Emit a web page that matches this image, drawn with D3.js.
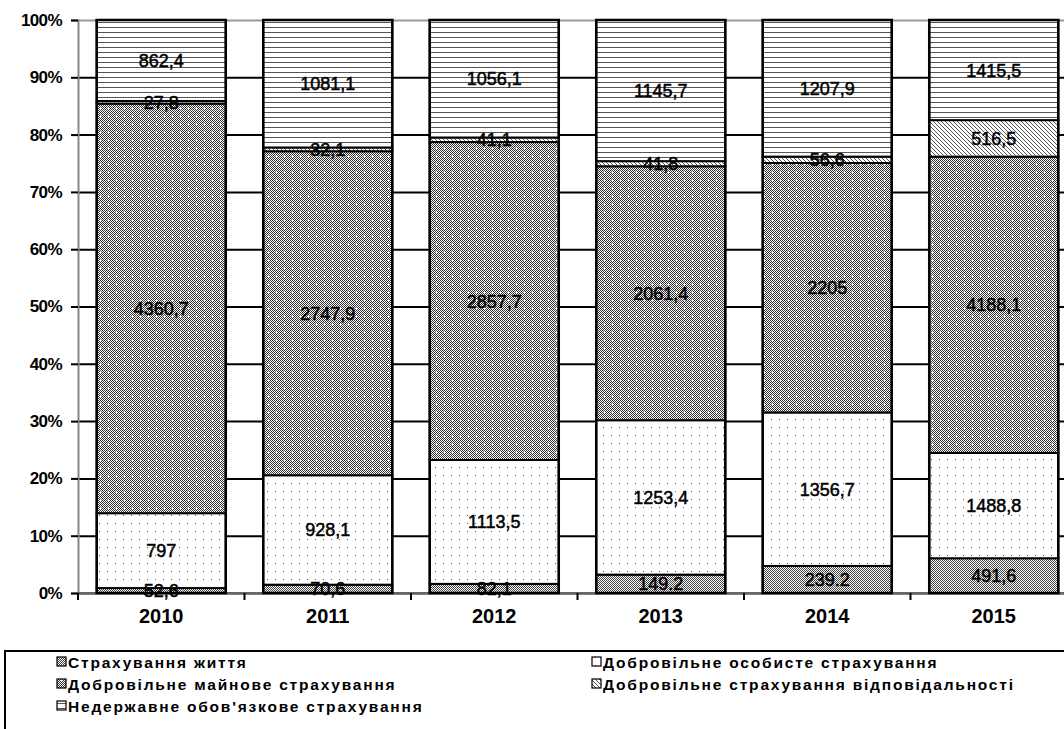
<!DOCTYPE html>
<html>
<head>
<meta charset="utf-8">
<script src="https://cdn.jsdelivr.net/npm/d3@7"></script>
<style>
  html, body { margin: 0; padding: 0; background: #fff; }
  svg { display: block; }
  text { font-family: "Liberation Sans", Arial, sans-serif; }
</style>
</head>
<body>
<svg id="chart" width="1064" height="729"></svg>
<script>
// ---------- data ----------
const years = ["2010", "2011", "2012", "2013", "2014", "2015"];
const seriesNames = [
  "Страхування  життя",
  "Добровільне  особисте  страхування",
  "Добровільне  майнове  страхування",
  "Добровільне  страхування  відповідальності",
  "Недержавне  обов'язкове  страхування"
];
const life      = [52.6, 70.6, 82.1, 149.2, 239.2, 491.6];
const personal  = [797, 928.1, 1113.5, 1253.4, 1356.7, 1488.8];
const property  = [4360.7, 2747.9, 2857.7, 2061.4, 2205, 4188.1];
const liability = [27.8, 32.1, 41.1, 41.8, 56.6, 516.5];
const mandatory = [862.4, 1081.1, 1056.1, 1145.7, 1207.9, 1415.5];
const yTicks = [0, 0.1, 0.2, 0.3, 0.4, 0.5, 0.6, 0.7, 0.8, 0.9, 1.0];
// life labels for 2013 & 2014 are printed with a decimal point in the source
const pointDecimalYears = ["2013", "2014"];

const seriesValues = [life, personal, property, liability, mandatory];
const keys = ["life", "personal", "property", "liability", "mandatory"];

// ---------- layout ----------
const svg = d3.select("#chart");
const margin = { left: 78, top: 20, bottom: 593 };
const plotRight = 1077;

const table = years.map((yr, i) => {
  const row = { year: yr };
  keys.forEach((k, s) => row[k] = seriesValues[s][i]);
  return row;
});

const stack = d3.stack().keys(keys).offset(d3.stackOffsetExpand);
const stacked = stack(table);

const x = d3.scaleBand().domain(years).range([margin.left, plotRight])
  .paddingInner(0.225).paddingOuter(0.1125);
const y = d3.scaleLinear().domain([0, 1]).range([margin.bottom, margin.top]);

// ---------- patterns ----------
const defs = svg.append("defs");
const chk = defs.append("pattern").attr("id", "checker").attr("patternUnits", "userSpaceOnUse")
  .attr("width", 2).attr("height", 2);
chk.append("rect").attr("width", 2).attr("height", 2).attr("fill", "#fff");
chk.append("rect").attr("width", 1).attr("height", 1).attr("fill", "#333");
chk.append("rect").attr("x", 1).attr("y", 1).attr("width", 1).attr("height", 1).attr("fill", "#333");

const pLife = defs.append("pattern").attr("id", "p-life").attr("patternUnits", "userSpaceOnUse")
  .attr("width", 2).attr("height", 2);
pLife.append("rect").attr("width", 2).attr("height", 2).attr("fill", "#fff");
pLife.append("rect").attr("width", 1).attr("height", 1).attr("fill", "#444");
pLife.append("rect").attr("x", 1).attr("y", 1).attr("width", 1).attr("height", 1).attr("fill", "#444");

const pProp = defs.append("pattern").attr("id", "p-property").attr("patternUnits", "userSpaceOnUse")
  .attr("width", 8).attr("height", 8);
pProp.append("rect").attr("width", 8).attr("height", 8).attr("fill", "url(#checker)");
pProp.append("rect").attr("x", 3).attr("y", 4).attr("width", 3).attr("height", 1).attr("fill", "#fff");
pProp.append("rect").attr("x", 4).attr("y", 3).attr("width", 1).attr("height", 3).attr("fill", "#fff");

const pPers = defs.append("pattern").attr("id", "p-personal").attr("patternUnits", "userSpaceOnUse")
  .attr("width", 8).attr("height", 8);
pPers.append("rect").attr("width", 8).attr("height", 8).attr("fill", "#fff");
pPers.append("rect").attr("x", 3).attr("y", 3).attr("width", 1).attr("height", 1).attr("fill", "#555");

const pLiab = defs.append("pattern").attr("id", "p-liability").attr("patternUnits", "userSpaceOnUse")
  .attr("width", 4).attr("height", 4);
pLiab.append("rect").attr("width", 4).attr("height", 4).attr("fill", "#fff");
pLiab.append("path").attr("d", "M-1,-1 L5,5 M-1,3 L1,5 M3,-1 L5,1")
  .attr("stroke", "#555").attr("stroke-width", 1);

const pMand = defs.append("pattern").attr("id", "p-mandatory").attr("patternUnits", "userSpaceOnUse")
  .attr("width", 8).attr("height", 5);
pMand.append("rect").attr("width", 8).attr("height", 5).attr("fill", "#fff");
pMand.append("rect").attr("y", 2).attr("width", 8).attr("height", 1).attr("fill", "#555");

const fills = {
  life: "url(#p-life)", personal: "url(#p-personal)", property: "url(#p-property)",
  liability: "url(#p-liability)", mandatory: "url(#p-mandatory)"
};

// ---------- grid ----------
const grid = svg.append("g").attr("transform", `translate(${margin.left},0)`)
  .call(d3.axisLeft(y).tickValues(yTicks).tickSize(-(1064 - margin.left)).tickFormat(""));
grid.select(".domain").remove();
grid.selectAll(".tick line").attr("stroke", d => d === 1 ? "#999" : "#000").attr("stroke-width", 2);

// y axis
const yAxis = svg.append("g").attr("transform", `translate(${margin.left},0)`)
  .call(d3.axisLeft(y).tickValues(yTicks).tickSize(7).tickPadding(9)
    .tickFormat(d => Math.round(d * 100) + "%"));
yAxis.select(".domain").attr("stroke", "#888").attr("stroke-width", 2);
yAxis.selectAll(".tick line").attr("stroke", "#000").attr("stroke-width", 2);
yAxis.selectAll(".tick text").attr("font-size", 17).attr("font-weight", "bold")
  .attr("letter-spacing", -0.6).attr("fill", "#000")
  .style("font-family", "'Liberation Sans', Arial, sans-serif");

// x axis baseline
svg.append("line").attr("x1", margin.left).attr("x2", 1064)
  .attr("y1", y(0)).attr("y2", y(0)).attr("stroke", "#666").attr("stroke-width", 2);

// category boundary ticks
const bounds = d3.range(years.length + 1).map(i => x.range()[0] + i * x.step());
svg.append("g").selectAll("line").data(bounds).join("line")
  .attr("x1", d => d).attr("x2", d => d)
  .attr("y1", y(0)).attr("y2", y(0) + 7)
  .attr("stroke", "#000").attr("stroke-width", 2);

// x labels
const xAxis = svg.append("g").attr("transform", `translate(0,${y(0)})`)
  .call(d3.axisBottom(x).tickSize(0).tickPadding(16));
xAxis.select(".domain").remove();
xAxis.selectAll(".tick text").attr("font-size", 20).attr("font-weight", "bold").attr("fill", "#000")
  .style("font-family", "'Liberation Sans', Arial, sans-serif");

// ---------- bars ----------
const layers = svg.append("g").selectAll("g").data(stacked).join("g")
  .attr("fill", d => fills[d.key]);
layers.selectAll("rect").data(d => d).join("rect")
  .attr("x", d => x(d.data.year))
  .attr("width", x.bandwidth())
  .attr("y", d => y(d[1]))
  .attr("height", d => y(d[0]) - y(d[1]))
  .attr("stroke", "#000").attr("stroke-width", 2);

svg.append("g").selectAll("rect").data(table).join("rect")
  .attr("x", d => x(d.year)).attr("width", x.bandwidth())
  .attr("y", y(1)).attr("height", y(0) - y(1))
  .attr("fill", "none").attr("stroke", "#000").attr("stroke-width", 2.5);

// ---------- labels ----------
function labelText(key, year, v) {
  const s = String(v);
  if (key === "life" && pointDecimalYears.includes(year)) return s;
  return s.replace(".", ",");
}
const labels = svg.append("g");
stacked.forEach(layer => {
  layer.forEach(d => {
    labels.append("text")
      .attr("x", x(d.data.year) + x.bandwidth() / 2)
      .attr("y", (y(d[0]) + y(d[1])) / 2)
      .attr("dy", "0.36em")
      .attr("text-anchor", "middle")
      .attr("font-size", 18)
      .attr("fill", "#000")
      .attr("stroke", "#000").attr("stroke-width", 0.5)
      .text(labelText(layer.key, d.data.year, d.data[layer.key]));
  });
});

// ---------- legend ----------
svg.append("rect").attr("x", 5).attr("y", 651).attr("width", 1100).attr("height", 120)
  .attr("fill", "#fff").attr("stroke", "#000").attr("stroke-width", 2);
const legendPos = [
  { col: 0, row: 0 }, { col: 1, row: 0 }, { col: 0, row: 1 }, { col: 1, row: 1 }, { col: 0, row: 2 }
];
const lg = svg.append("g").selectAll("g").data(keys).join("g")
  .attr("transform", (k, i) => `translate(${legendPos[i].col ? 592 : 57},${662 + legendPos[i].row * 22})`);
lg.append("rect").attr("x", 0).attr("y", -5).attr("width", 9).attr("height", 9)
  .attr("fill", k => fills[k]).attr("stroke", "#000").attr("stroke-width", 1.2);
lg.append("text").attr("x", 11).attr("y", 0).attr("dy", "0.36em")
  .attr("font-size", 15.5).attr("font-weight", "bold").attr("letter-spacing", 1.8).attr("fill", "#000")
  .text((k, i) => seriesNames[i]);
</script>
</body>
</html>
